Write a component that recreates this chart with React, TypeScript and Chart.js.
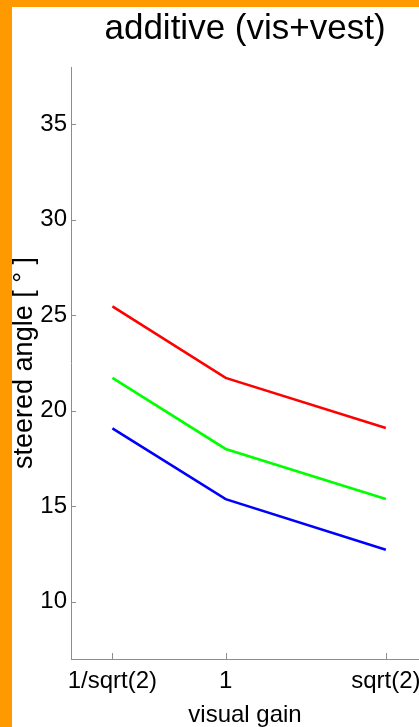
import React, { useEffect, useRef } from "react";
import { Chart, registerables } from "chart.js";

Chart.register(...registerables);

// Visual gain settings on the x axis and their tick labels
const gainValues = [Math.SQRT1_2, 1, Math.SQRT2];
const gainLabels = ["1/sqrt(2)", "1", "sqrt(2)"];

// Steered angle (degrees) for each condition
const redSeries = [25.46, 21.72, 19.1];
const greenSeries = [21.72, 18.0, 15.38];
const blueSeries = [19.08, 15.37, 12.72];

const yTickValues = [10, 15, 20, 25, 30, 35];

const titleText = "additive (vis+vest)";
const xTitleText = "visual gain";
const yTitleText = "steered angle [ ° ]";

const FONT = "'Liberation Sans', Arial, Helvetica, sans-serif";
const AXIS_COLOR = "#8c8c8c";

const toPoints = (ys: number[]) => ys.map((y, i) => ({ x: gainValues[i], y }));

// Inward tick marks plus the title and axis titles, placed around the chart area
const decorPlugin = {
  id: "decor",
  afterDraw(chart: any) {
    const { ctx, chartArea, scales } = chart;
    const xs = scales.x;
    const ys = scales.y;
    ctx.save();
    ctx.strokeStyle = AXIS_COLOR;
    ctx.lineWidth = 1;
    ctx.beginPath();
    xs.ticks.forEach((t: any) => {
      const px = Math.round(xs.getPixelForValue(t.value)) + 0.5;
      ctx.moveTo(px, chartArea.bottom);
      ctx.lineTo(px, chartArea.bottom - 6);
    });
    ys.ticks.forEach((t: any) => {
      const py = Math.round(ys.getPixelForValue(t.value)) + 0.5;
      ctx.moveTo(chartArea.left, py);
      ctx.lineTo(chartArea.left + 5, py);
    });
    ctx.stroke();

    ctx.fillStyle = "#000";
    const cx = (chartArea.left + chartArea.right) / 2;
    ctx.textAlign = "center";
    ctx.textBaseline = "alphabetic";
    ctx.font = `35px ${FONT}`;
    ctx.fillText(titleText, cx, 39);

    ctx.font = `24px ${FONT}`;
    ctx.fillText(xTitleText, cx, 722);

    ctx.save();
    ctx.translate(32, (chartArea.top + chartArea.bottom) / 2);
    ctx.rotate(-Math.PI / 2);
    ctx.font = `27px ${FONT}`;
    ctx.fillText(yTitleText, 0, 0);
    ctx.restore();
    ctx.restore();
  },
};

export default function App() {
  const canvasRef = useRef<HTMLCanvasElement | null>(null);

  useEffect(() => {
    if (!canvasRef.current) return;
    const line = (data: number[], color: string) => ({
      data: toPoints(data),
      borderColor: color,
      backgroundColor: color,
      borderWidth: 2.6,
      pointRadius: 0,
      tension: 0,
      fill: false,
    });
    const chart = new Chart(canvasRef.current, {
      type: "line",
      data: {
        datasets: [
          line(redSeries, "#ff0000"),
          line(greenSeries, "#00ff00"),
          line(blueSeries, "#0000ff"),
        ],
      },
      plugins: [decorPlugin],
      options: {
        animation: false,
        responsive: false,
        devicePixelRatio: 1,
        layout: { padding: { top: 67, left: 0, right: 0, bottom: 0 } },
        plugins: {
          legend: { display: false },
          title: { display: false },
          tooltip: { enabled: false },
        },
        scales: {
          x: {
            type: "linear",
            min: 0.6,
            max: 1.5,
            grid: { display: false, drawTicks: false },
            border: { display: true, color: AXIS_COLOR, width: 1 },
            afterBuildTicks: (s: any) => {
              s.ticks = gainValues.map((v) => ({ value: v }));
            },
            afterFit: (s: any) => {
              s.height = 68;
              s.paddingLeft = 0;
              s.paddingRight = 0;
            },
            ticks: {
              autoSkip: false,
              maxRotation: 0,
              padding: 8,
              color: "#000",
              font: { family: FONT, size: 24 },
              callback: (_v: any, i: number) => gainLabels[i],
            },
          },
          y: {
            type: "linear",
            min: 7,
            max: 38,
            grid: { display: false, drawTicks: false },
            border: { display: true, color: AXIS_COLOR, width: 1 },
            afterBuildTicks: (s: any) => {
              s.ticks = yTickValues.map((v) => ({ value: v }));
            },
            afterFit: (s: any) => {
              s.width = 71;
              s.paddingTop = 0;
              s.paddingBottom = 0;
            },
            ticks: {
              padding: 4,
              color: "#000",
              font: { family: FONT, size: 24 },
              callback: (v: any) => String(v),
            },
          },
        },
      },
    });
    return () => chart.destroy();
  }, []);

  return (
    <div style={{ position: "fixed", left: 0, top: 0, width: 419, height: 727, background: "#fff", overflow: "hidden" }}>
      <canvas ref={canvasRef} width={419} height={727} style={{ position: "absolute", left: 0, top: 0 }} />
      <div style={{ position: "absolute", left: 0, top: 0, width: 12, height: 727, background: "#ff9900" }} />
      <div style={{ position: "absolute", left: 0, top: 0, width: 419, height: 7, background: "#ff9900" }} />
    </div>
  );
}
